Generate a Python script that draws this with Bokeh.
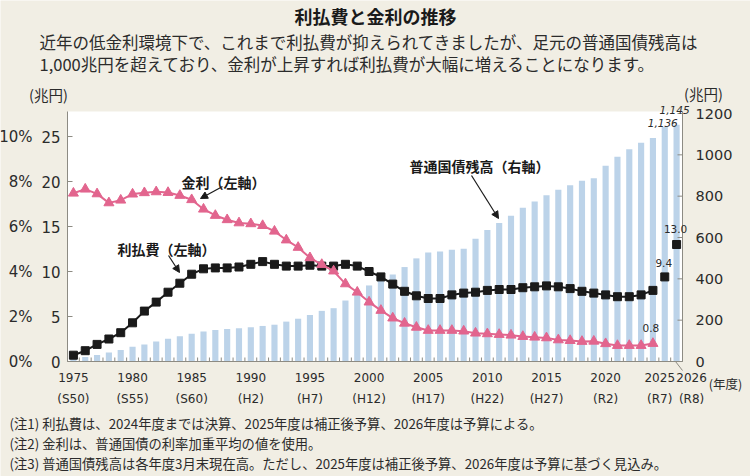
from bokeh.plotting import figure
from bokeh.models import Range1d, Label, Arrow, NormalHead, BoxAnnotation
from bokeh.embed import file_html
from bokeh.resources import INLINE

# ---- data -------------------------------------------------------------
years = list(range(1975, 2027))

# 普通国債残高（兆円, 右軸）1975–2026
debt = [15, 22, 32, 43, 56, 71, 82, 97, 110, 122,
        134, 145, 152, 157, 161, 166, 172, 178, 193, 207,
        225, 245, 258, 295, 332, 368, 392, 421, 457, 499,
        527, 532, 541, 546, 594, 636, 670, 705, 744, 774,
        805, 831, 853, 874, 887, 947, 991, 1027, 1058, 1082,
        1136, 1145]

# 利払費（兆円, 左軸）1975–2024 決算
interest = [0.7, 1.2, 1.9, 2.5, 3.2, 4.3, 5.6, 6.6, 7.7, 8.7,
            9.7, 10.3, 10.4, 10.4, 10.5, 10.8, 11.1, 10.8, 10.6, 10.6,
            10.7, 10.6, 10.6, 10.8, 10.6, 10.0, 9.4, 8.6, 7.8, 7.3,
            7.0, 7.0, 7.4, 7.6, 7.7, 7.9, 8.0, 8.0, 8.2, 8.3,
            8.4, 8.3, 8.1, 7.8, 7.6, 7.4, 7.2, 7.2, 7.4, 7.9]
# 2025 補正後予算, 2026 予算
interest_budget_years = [2025, 2026]
interest_budget = [9.4, 13.0]

# 金利（%, 左軸）1975–2024
rate = [7.48, 7.66, 7.45, 7.05, 7.17, 7.44, 7.50, 7.54, 7.51, 7.38,
        7.19, 6.77, 6.49, 6.30, 6.16, 6.12, 6.04, 5.79, 5.40, 5.07,
        4.61, 4.31, 4.02, 3.45, 3.08, 2.64, 2.27, 1.93, 1.70, 1.52,
        1.38, 1.38, 1.38, 1.35, 1.26, 1.23, 1.20, 1.17, 1.11, 1.08,
        1.05, 0.96, 0.93, 0.89, 0.90, 0.79, 0.71, 0.71, 0.71, 0.80]

tick_years = [1975, 1980, 1985, 1990, 1995, 2000, 2005, 2010, 2015, 2020, 2025, 2026]
era_labels = ["(S50)", "(S55)", "(S60)", "(H2)", "(H7)", "(H12)", "(H17)",
              "(H22)", "(H27)", "(R2)", "(R7)", "(R8)"]
left_ticks = [0, 5, 10, 15, 20, 25]
pct_ticks = [0, 2, 4, 6, 8, 10]
right_ticks = [0, 200, 400, 600, 800, 1000, 1200]

title = "利払費と金利の推移"
subtitle = ["近年の低金利環境下で、これまで利払費が抑えられてきましたが、足元の普通国債残高は",
            "1,000兆円を超えており、金利が上昇すれば利払費が大幅に増えることになります。"]
notes = ["(注1) 利払費は、2024年度までは決算、2025年度は補正後予算、2026年度は予算による。",
         "(注2) 金利は、普通国債の利率加重平均の値を使用。",
         "(注3) 普通国債残高は各年度3月末現在高。ただし、2025年度は補正後予算、2026年度は予算に基づく見込み。"]

# ---- geometry ------------------------------------------------------------
W, H = 750, 476
FL, FR, FT, FB = 67, 682, 111, 361          # chart area edges in px
X0, X1 = 1974.5, 2026.5
Y_TOP = 27.78                               # 兆円 on the left scale at the area top
DEBT_TOP = 1200 * (FB - FT) / 248
PCT_TOP = Y_TOP / 2.5

XPP = (X1 - X0) / (FR - FL)                 # years per pixel
YPP = Y_TOP / (FB - FT)                     # left units per pixel
DPP = DEBT_TOP / (FB - FT)
PPP = PCT_TOP / (FB - FT)

JP = "Noto Sans CJK JP"
NUM = "DejaVu Sans"
BG = "#f1eee4"
AX = "#8d8b83"
TXT = "#2b2b2b"
BAR = "#bcd3e9"
PINK = "#e2658e"
BLACK = "#1a1a1a"

# the frame spans the whole canvas so that all texts can live in it
x_range = Range1d(X0 - FL * XPP, X1 + (W - FR) * XPP)
y_range = Range1d(-(H - FB) * YPP, FB * YPP)

p = figure(width=W, height=H, x_range=x_range, y_range=y_range,
           output_backend="svg", toolbar_location=None,
           x_axis_type=None, y_axis_type=None, min_border=0,
           background_fill_color=BG, border_fill_color=BG, outline_line_color=None)
p.extra_y_ranges = {"debt": Range1d(-(H - FB) * DPP, FB * DPP),
                    "pct": Range1d(-(H - FB) * PPP, FB * PPP)}
p.grid.visible = False


def dx(px):
    return x_range.start + px * XPP


def dy(py):
    return y_range.end - py * YPP


def lab(x, y, text, size, font=NUM, align="center", bold=False, italic=False,
        color=TXT, y_range_name="default", x_offset=0, y_offset=0):
    style = "bold" if bold else ("italic" if italic else "normal")
    p.add_layout(Label(x=x, y=y, text=text, text_align=align, text_baseline="middle",
                       text_font=font, text_font_size=size, text_font_style=style,
                       text_color=color, y_range_name=y_range_name,
                       x_offset=x_offset, y_offset=y_offset))


# white chart area
p.add_layout(BoxAnnotation(left=X0, right=X1, bottom=0, top=Y_TOP, fill_color="white",
                           fill_alpha=1, line_color=None, level="underlay"))

# ---- marks -------------------------------------------------------------
p.vbar(x=years, top=debt, width=0.52, y_range_name="debt",
       fill_color=BAR, line_color=None)

n = len(interest)
p.line(years[:n], interest, line_color=BLACK, line_width=2)
p.scatter(years[:n], interest, marker="square", size=8,
          fill_color=BLACK, line_color=BLACK)
p.scatter(interest_budget_years, interest_budget, marker="square", size=8,
          fill_color=BLACK, line_color=BLACK)

p.line(years[:len(rate)], rate, y_range_name="pct", line_color=PINK, line_width=2)
p.scatter(years[:len(rate)], rate, y_range_name="pct", marker="triangle", size=10,
          fill_color=PINK, line_color=PINK)

# ---- axes ------------------------------------------------------------------
# axis lines
p.segment(x0=[X0, X1, X0], y0=[0, 0, 0], x1=[X0, X1, X1], y1=[Y_TOP, Y_TOP, 0],
          line_color=AX, line_width=1)
# inward ticks, left and right
p.segment(x0=[X0] * len(left_ticks), y0=left_ticks,
          x1=[X0 + 5 * XPP] * len(left_ticks), y1=left_ticks, line_color=AX)
p.segment(x0=[X1 - 5 * XPP] * len(right_ticks), y0=right_ticks,
          x1=[X1] * len(right_ticks), y1=right_ticks, line_color=AX,
          y_range_name="debt")
# small category ticks along the bottom
cat_edges = [X0 + i for i in range(int(X1 - X0) + 1)]
p.segment(x0=cat_edges, y0=[0] * len(cat_edges), x1=cat_edges,
          y1=[4 * YPP] * len(cat_edges), line_color=AX)

for t in left_ticks:
    lab(X0, t, str(t), "15px", align="right", x_offset=-7)
for t in pct_ticks:
    lab(X0, t, f"{t}%", "15px", align="right", x_offset=-35, y_range_name="pct")
for t in right_ticks:
    lab(X1, t, str(t), "14.5px", align="left", x_offset=13, y_range_name="debt")

# x tick labels; the last two are spread apart
shift = {2025: -5, 2026: 15}
for yr, era in zip(tick_years, era_labels):
    off = shift.get(yr, 0)
    lab(yr, dy(377), str(yr), "12px", x_offset=off)
    lab(yr, dy(398), era, "12px", x_offset=off)
p.add_layout(Arrow(x_start=dx(675), y_start=0, x_end=dx(682), y_end=dy(370),
                   line_color=AX, line_width=1, end=None))
lab(dx(725), dy(383), "(年度)", "12.5px", font=JP)

# unit labels
lab(dx(48), dy(94), "(兆円)", "14.5px", font=JP)
lab(dx(703), dy(93), "(兆円)", "14.5px", font=JP)

# ---- value labels --------------------------------------------------------
lab(years[len(rate) - 1], rate[-1], f"{rate[-1]:.1f}", "10.5px",
    y_range_name="pct", y_offset=16, x_offset=-2)
for yr, v, off in zip(interest_budget_years, interest_budget, [14, 16]):
    lab(yr, v, f"{v:.1f}", "10.5px", y_offset=off, x_offset=-1)
for yr, v, off in zip(years[-2:], debt[-2:], [4, 15]):
    lab(yr, v, f"{v:,}", "10.5px", italic=True, y_range_name="debt",
        y_offset=off, x_offset=-2)


# ---- series annotations with arrows -------------------------------------
def note_arrow(text, cx, cy, x0, y0, x1, y1):
    lab(dx(cx), dy(cy), text, "14px", font=JP, bold=True, color=BLACK)
    p.add_layout(Arrow(x_start=dx(x0), y_start=dy(y0), x_end=dx(x1), y_end=dy(y1),
                       line_color=BLACK, line_width=1.2,
                       end=NormalHead(size=7, fill_color=BLACK, line_color=BLACK)))


note_arrow("金利（左軸）", 223, 181, 222, 186, 200, 198)
note_arrow("利払費（左軸）", 166, 248, 168, 255, 179, 272)
note_arrow("普通国債残高（右軸）", 479, 165, 471, 175, 498, 218)

# ---- title, subtitle, notes ---------------------------------------------
lab(dx(375), dy(15), title, "18px", font=JP, bold=True, color=BLACK)
for i, line in enumerate(subtitle):
    lab(dx(39), dy(41 + 22 * i), line, "16.5px", font=JP, align="left")
for i, line in enumerate(notes):
    lab(dx(9), dy(423 + 20 * i), line, "13.3px", font=JP, align="left")

open("out.html", "w").write(file_html(p, INLINE))
